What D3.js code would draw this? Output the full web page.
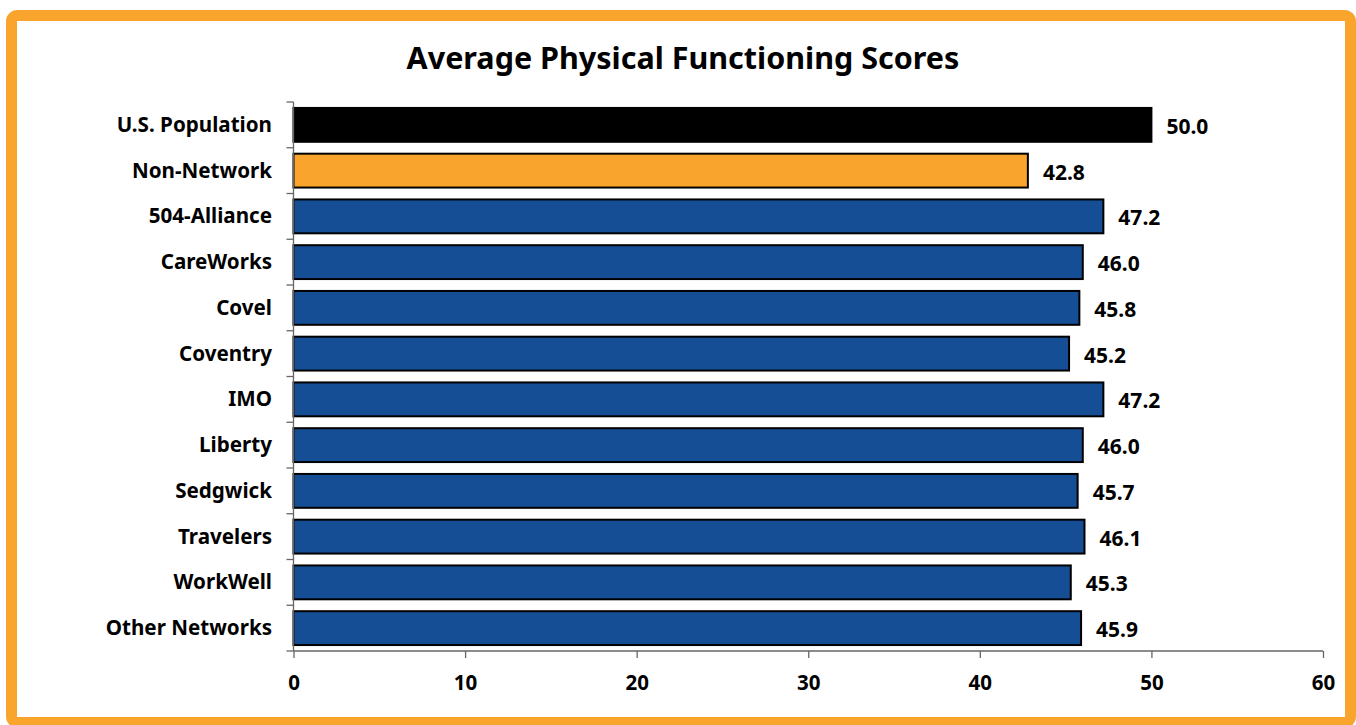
<!DOCTYPE html>
<html>
<head>
<meta charset="utf-8">
<script src="https://cdn.jsdelivr.net/npm/d3@7"></script>
<style>
  body { margin: 0; background: #fff; }
  text { font-family: "Noto Sans", "Open Sans", sans-serif; font-weight: bold; fill: #000; }
</style>
</head>
<body>
<svg id="chart" width="1356" height="725"></svg>
<script>
// data
var categories = ["U.S. Population", "Non-Network", "504-Alliance", "CareWorks", "Covel", "Coventry",
                  "IMO", "Liberty", "Sedgwick", "Travelers", "WorkWell", "Other Networks"];
var scores = [50.0, 42.8, 47.2, 46.0, 45.8, 45.2, 47.2, 46.0, 45.7, 46.1, 45.3, 45.9];
var barColors = ["#000000", "#f9a42c", "#154e94", "#154e94", "#154e94", "#154e94",
                 "#154e94", "#154e94", "#154e94", "#154e94", "#154e94", "#154e94"];
var xTicks = [0, 10, 20, 30, 40, 50, 60];

var svg = d3.select("#chart");

// orange frame
svg.append("rect")
    .attr("x", 11.5).attr("y", 15.5)
    .attr("width", 1339).attr("height", 707)
    .attr("rx", 6)
    .attr("fill", "#fff")
    .attr("stroke", "#f9a42c")
    .attr("stroke-width", 11);

svg.append("text")
    .attr("x", 683).attr("y", 69)
    .attr("text-anchor", "middle")
    .style("font-size", "30.5px")
    .text("Average Physical Functioning Scores");

var x = d3.scaleLinear().domain([0, 60]).range([293.5, 1323]);
var y = d3.scaleBand().domain(categories).range([102, 651]).paddingInner(0.26).paddingOuter(0.13);

var g = svg.append("g");

// bars
g.selectAll(".bar")
    .data(categories)
    .enter()
    .append("rect")
    .attr("class", "bar")
    .attr("x", x(0))
    .attr("y", function(d) { return y(d); })
    .attr("width", function(d, i) { return x(scores[i]) - x(0); })
    .attr("height", y.bandwidth())
    .attr("fill", function(d, i) { return barColors[i]; })
    .attr("stroke", "#000")
    .attr("stroke-width", 2);

// value labels
g.selectAll(".val")
    .data(categories)
    .enter()
    .append("text")
    .attr("class", "val")
    .attr("x", function(d, i) { return x(scores[i]) + 15; })
    .attr("y", function(d) { return y(d) + y.bandwidth() / 2 + 9; })
    .style("font-size", "21px")
    .text(function(d, i) { return scores[i].toFixed(1); });

// y axis: ticks between categories
var yTickPos = d3.range(categories.length + 1).map(function(i) { return 102 + i * (651 - 102) / categories.length; });
var yAxis = svg.append("g");
yAxis.append("line")
    .attr("x1", x(0)).attr("x2", x(0))
    .attr("y1", 102).attr("y2", 651)
    .attr("stroke", "#666").attr("stroke-width", 1.3);
yAxis.selectAll(".yt")
    .data(yTickPos)
    .enter()
    .append("line")
    .attr("x1", x(0) - 7).attr("x2", x(0))
    .attr("y1", function(d) { return d; }).attr("y2", function(d) { return d; })
    .attr("stroke", "#666").attr("stroke-width", 1.3);
yAxis.selectAll(".ylab")
    .data(categories)
    .enter()
    .append("text")
    .attr("x", 272)
    .attr("y", function(d) { return y(d) + y.bandwidth() / 2 + 7; })
    .attr("text-anchor", "end")
    .style("font-size", "20.6px")
    .text(function(d) { return d; });

// x axis
var xAxis = svg.append("g")
    .attr("transform", "translate(0,651)")
    .call(d3.axisBottom(x).tickValues(xTicks).tickSize(7).tickPadding(17).tickFormat(d3.format("d")));
xAxis.selectAll("path, line").attr("stroke", "#666").attr("stroke-width", 1.3);
xAxis.selectAll("text").style("font-size", "20.5px").attr("fill", "#000")
    .style("font-family", "'Noto Sans', sans-serif").style("font-weight", "bold");
xAxis.select(".domain").attr("d", "M" + x(0) + ",0H" + x(60));
</script>
</body>
</html>
